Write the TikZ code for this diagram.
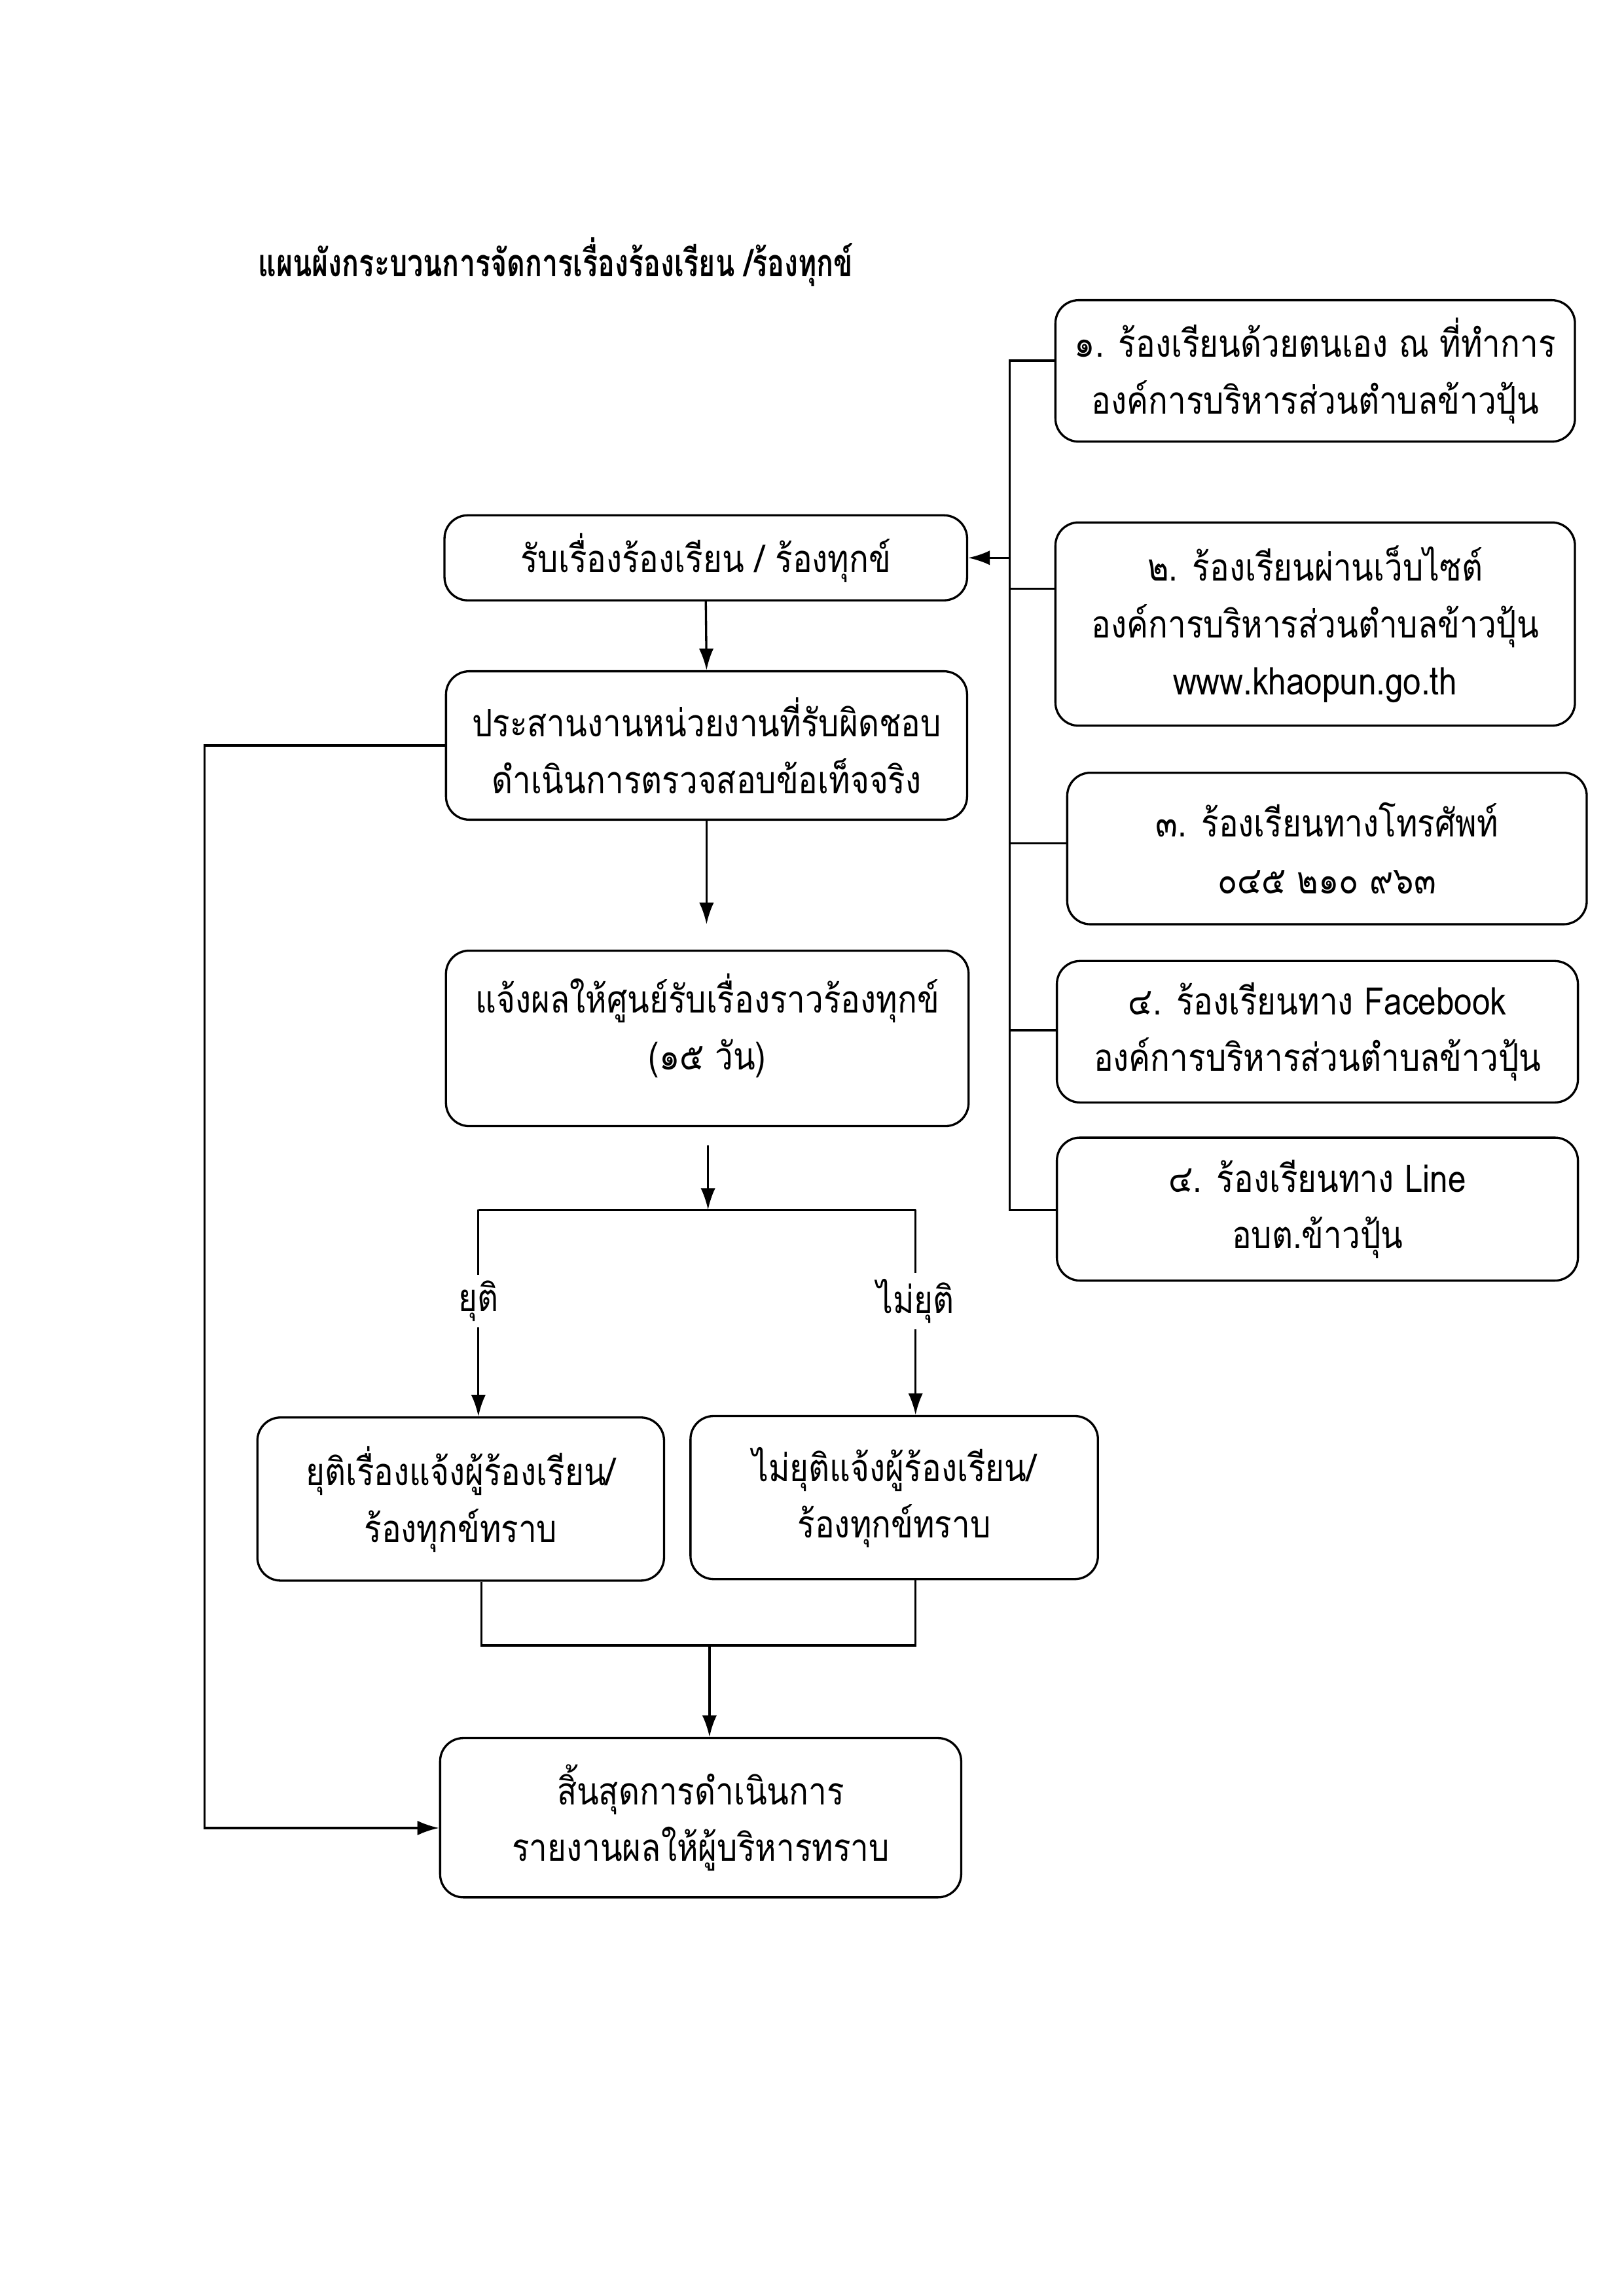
\documentclass[tikz,border=0pt]{standalone}
\usepackage{fontspec}
\setmainfont[Script=Thai]{Loma}
\newfontfamily\boxfont[Script=Thai,FakeStretch=0.85]{Loma}
\newfontfamily\titlefont[Script=Thai,FakeStretch=0.74]{Loma}
\usetikzlibrary{arrows.meta,calc}
\begin{document}
\begin{tikzpicture}[x=0.1904mm,y=-0.1904mm,
  box/.style={draw, line width=0.8pt, rounded corners=3mm, align=center, inner sep=0pt,
    font=\boxfont\fontsize{14}{20.9}\selectfont},
  link/.style={line width=0.8pt},
  arr/.style={line width=0.8pt,-{Latex[length=2.8mm,width=1.9mm]}},
  lbl/.style={font=\boxfont\fontsize{14}{15}\selectfont, inner xsep=1pt, inner ysep=2pt},
  txt/.style={align=center, inner sep=0pt, font=\boxfont\fontsize{14}{20.9}\selectfont}
]
\fill[white] (0,0) rectangle (1103,1560);
\useasboundingbox (0,0) rectangle (1103,1560);

\node[anchor=west, inner sep=0pt, font=\titlefont\bfseries\fontsize{14}{15}\selectfont] (title) at (175,178)
  {แผนผังกระบวนการจัดการเรื่องร้องเรียน /ร้องทุกข์};

% right column
\node[box, minimum width=67.2mm, minimum height=18.3mm] (r1) at (893.5,252)
  {๑. ร้องเรียนด้วยตนเอง ณ ที่ทำการ\\องค์การบริหารส่วนตำบลข้าวปุ้น};
\node[box, minimum width=67.2mm, minimum height=26.3mm] (r2) at (893.5,424)
  {๒. ร้องเรียนผ่านเว็บไซต์\\องค์การบริหารส่วนตำบลข้าวปุ้น\\www.khaopun.go.th};
\node[box, minimum width=67.2mm, minimum height=19.6mm] (r3) at (901.5,576.5)
  {๓. ร้องเรียนทางโทรศัพท์\\๐๔๕ ๒๑๐ ๙๖๓};
\node[box, minimum width=67.4mm, minimum height=18.3mm] (r4) at (895,701)
  {๔. ร้องเรียนทาง Facebook\\องค์การบริหารส่วนตำบลข้าวปุ้น};
\node[box, minimum width=67.4mm, minimum height=18.5mm] (r5) at (895,821.5)
  {๔. ร้องเรียนทาง Line\\อบต.ข้าวปุ้น};

% left column
\node[box, minimum width=67.6mm, minimum height=11.0mm] (A) at (479.5,379)
  {รับเรื่องร้องเรียน / ร้องทุกข์};
\node[box, minimum width=67.4mm, minimum height=19.2mm] (B) at (480,506.5)
  {ประสานงานหน่วยงานที่รับผิดชอบ\\ดำเนินการตรวจสอบข้อเท็จจริง};
\node[box, minimum width=67.6mm, minimum height=22.7mm] (C) at (480.5,705.5) {};
\node[txt] (Ct) at (480.5,697) {แจ้งผลให้ศูนย์รับเรื่องราวร้องทุกข์\\(๑๕ วัน)};
\node[box, minimum width=52.6mm, minimum height=21.1mm] (D) at (313,1018.5)
  {ยุติเรื่องแจ้งผู้ร้องเรียน/\\ร้องทุกข์ทราบ};
\node[box, minimum width=52.7mm, minimum height=21.1mm] (E) at (607.5,1017.5)
  {ไม่ยุติแจ้งผู้ร้องเรียน/\\ร้องทุกข์ทราบ};
\node[box, minimum width=67.4mm, minimum height=20.6mm] (F) at (476,1235)
  {สิ้นสุดการดำเนินการ\\รายงานผลให้ผู้บริหารทราบ};

% right bus
\coordinate (bt) at (686,245);
\coordinate (ba) at (686,379);
\coordinate (b2) at (686,400);
\coordinate (b3) at (686,573);
\coordinate (b4) at (686,700);
\coordinate (bb) at (686,822);
\draw[link] (bt -| r1.west) -- (bt) -- (bb) -- (bb -| r5.west);
\draw[link] (b2) -- (b2 -| r2.west);
\draw[link] (b3) -- (b3 -| r3.west);
\draw[link] (b4) -- (b4 -| r4.west);
\draw[arr] (ba) -- (ba -| A.east);

% main flow
\draw[arr] (A.south) -- (B.north);
\coordinate (c1) at (480,628);
\draw[arr] (B.south) -- (c1);
\coordinate (c2) at (481,778);
\coordinate (sp) at (481,822);
\draw[arr] (c2) -- (sp);
\coordinate (bl) at (325,822);
\coordinate (br) at (622,822);
\draw[link] (bl) -- (br);
\node[lbl] (yt) at (325,884) {ยุติ};
\node[lbl] (myt) at (622,884) {ไม่ยุติ};
\draw[link] (bl) -- (yt.north);
\draw[link] (br) -- (myt.north);
\draw[arr] (yt.south) -- (yt.south |- D.north);
\draw[arr] (myt.south) -- (myt.south |- E.north);

% merge
\coordinate (ml) at (327,1118);
\coordinate (mr) at (622,1118);
\coordinate (mm) at (482,1118);
\draw[link] (ml |- D.south) -- (ml) -- (mr) -- (mr |- E.south);
\draw[arr] (mm) -- (mm |- F.north);

% loop
\coordinate (lp) at (139,1242);
\draw[arr] (B.west) -| (lp) -- (lp -| F.west);
\end{tikzpicture}
\end{document}
